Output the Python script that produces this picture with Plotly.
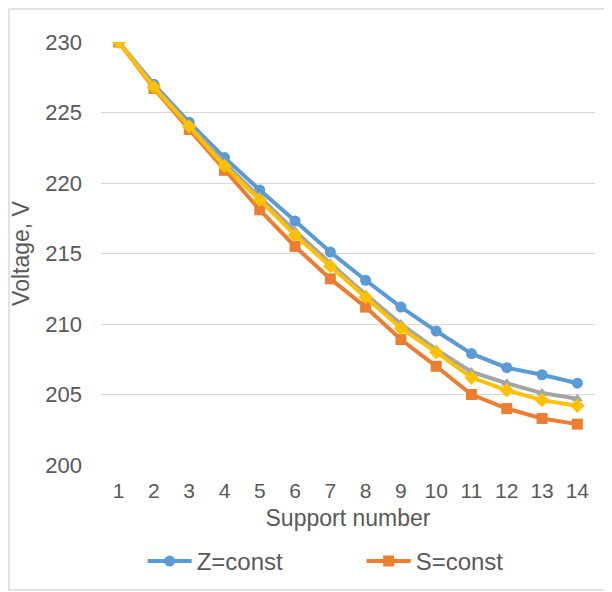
import plotly.graph_objects as go

support = list(range(1, 15))
z_const = [230.0, 227.0, 224.3, 221.8, 219.5, 217.3, 215.1, 213.1, 211.2, 209.5, 207.9, 206.9, 206.4, 205.8]
s_const = [230.0, 226.7, 223.8, 220.9, 218.1, 215.5, 213.2, 211.2, 208.9, 207.0, 205.0, 204.0, 203.3, 202.9]
gray_series = [230.0, 226.9, 224.1, 221.4, 219.0, 216.6, 214.3, 212.1, 210.0, 208.2, 206.6, 205.8, 205.1, 204.7]
yellow_series = [230.0, 226.8, 224.0, 221.2, 218.8, 216.3, 214.1, 211.9, 209.7, 208.0, 206.2, 205.3, 204.6, 204.2]
y_ticks = [200, 205, 210, 215, 220, 225, 230]

FONT = "Liberation Sans"
TXT = "#595959"

fig = go.Figure()
fig.add_trace(go.Scatter(x=support, y=z_const, name="Z=const", mode="lines+markers",
                         line=dict(color="#5B9BD5", width=4),
                         marker=dict(symbol="circle", size=11, color="#5B9BD5")))
fig.add_trace(go.Scatter(x=support, y=s_const, name="S=const", mode="lines+markers",
                         line=dict(color="#ED7D31", width=4),
                         marker=dict(symbol="square", size=11, color="#ED7D31")))
fig.add_trace(go.Scatter(x=support, y=gray_series, name="series 3", mode="lines+markers",
                         showlegend=False,
                         line=dict(color="#A5A5A5", width=4),
                         marker=dict(symbol="triangle-up", size=10, color="#A5A5A5")))
fig.add_trace(go.Scatter(x=support, y=yellow_series, name="series 4", mode="lines+markers",
                         showlegend=False,
                         line=dict(color="#FFC000", width=4),
                         marker=dict(symbol="diamond", size=11, color="#FFC000")))

fig.update_layout(
    width=612, height=592,
    margin=dict(l=93, r=25, t=34, b=135, autoexpand=False),
    paper_bgcolor="white", plot_bgcolor="white",
    font=dict(family=FONT, size=20, color=TXT),
    showlegend=True,
    legend=dict(orientation="h", xref="container", yref="container",
                x=0.22, xanchor="left", y=0.065, yanchor="middle",
                font=dict(family=FONT, size=24, color=TXT),
                entrywidth=160, entrywidthmode="pixels", itemwidth=44),
    xaxis=dict(range=[0.5, 14.5], tickmode="array", tickvals=support, automargin=False,
               ticktext=[str(s) for s in support], showgrid=False, zeroline=False,
               showline=False, ticks="", ticklabelstandoff=11,
               title=dict(text="Support number", standoff=8, font=dict(size=23, color=TXT)),
               tickfont=dict(size=21, color=TXT)),
    yaxis=dict(range=[200, 230], tickmode="array", tickvals=y_ticks, automargin=False,
               showgrid=True, gridcolor="#D9D9D9", gridwidth=1.3, zeroline=False,
               showline=False, ticks="", ticklabelstandoff=18,
               title=dict(text="Voltage, V", standoff=10, font=dict(size=23, color=TXT)),
               tickfont=dict(size=22, color=TXT)),
    shapes=[dict(type="rect", xref="paper", yref="paper",
                 x0=-0.1862, x1=1.06, y0=-0.2955, y1=1.078,
                 line=dict(color="#D9D9D9", width=1.5), layer="below")],
)

fig.write_html("out.html")
